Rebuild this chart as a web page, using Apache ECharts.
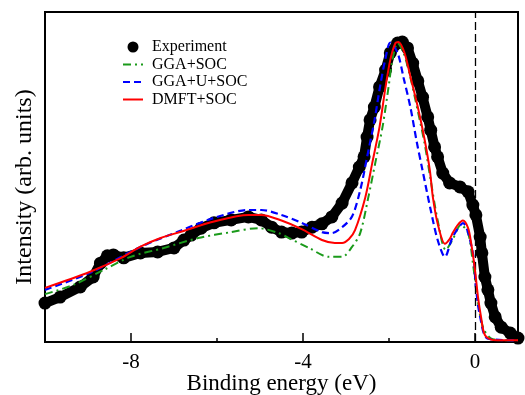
<!DOCTYPE html>
<html>
<head>
<meta charset="utf-8">
<script src="https://cdn.jsdelivr.net/npm/echarts@6/dist/echarts.min.js"></script>
<style>
html,body{margin:0;padding:0;background:#fff;}
#chart{width:525px;height:395px;}
</style>
</head>
<body>
<div id="chart"></div>
<script>
// ---- Data ----
const seriesNames = ['Experiment', 'GGA+SOC', 'GGA+U+SOC', 'DMFT+SOC'];
const xTickLabels = [-8, -4, 0];
const xMinorTicks = [-8, -6, -4, -2, 0];

const expE = [-10.0, -9.65, -9.18, -8.88, -8.71, -8.55, -8.41, -8.17, -7.78, -7.38, -7.0, -6.77, -6.6, -6.37, -6.07, -5.67, -5.27, -4.97, -4.73, -4.5, -4.26, -4.03, -3.79, -3.56, -3.33, -3.09, -2.86, -2.69, -2.58, -2.51, -2.44, -2.34, -2.22, -2.08, -1.97, -1.8, -1.69, -1.57, -1.45, -1.33, -1.22, -1.1, -1.03, -0.94, -0.87, -0.75, -0.59, -0.35, -0.16, -0.05, 0.02, 0.12, 0.16, 0.23, 0.3, 0.37, 0.47, 0.61, 0.82, 1.0];
const expI = [11.8, 13.6, 16.7, 19.7, 23.9, 26.1, 26.4, 25.5, 27.0, 27.3, 28.5, 30.9, 32.4, 34.5, 36.1, 37.0, 37.9, 37.0, 34.8, 33.3, 33.0, 33.3, 34.8, 35.8, 37.9, 42.1, 48.2, 53.0, 56.1, 62.1, 67.3, 71.2, 77.3, 82.4, 87.6, 90.6, 90.9, 89.1, 84.5, 79.1, 74.2, 68.2, 64.2, 59.1, 56.1, 51.2, 48.2, 47.0, 45.5, 41.5, 38.5, 31.8, 27.0, 19.7, 15.8, 11.8, 7.6, 4.5, 2.7, 1.2];

const ggaE = [-10.0, -9.34, -8.64, -8.01, -7.24, -6.44, -5.67, -5.04, -4.57, -4.33, -3.86, -3.4, -3.09, -2.86, -2.67, -2.48, -2.32, -2.15, -2.01, -1.92, -1.8, -1.66, -1.5, -1.33, -1.17, -1.03, -0.87, -0.68, -0.52, -0.33, -0.16, -0.05, 0.07, 0.2, 0.42, 1.0];
const ggaI = [14.5, 17.3, 21.8, 25.8, 28.5, 31.5, 33.3, 34.5, 33.0, 31.5, 28.5, 25.8, 25.8, 28.8, 33.0, 43.9, 54.2, 65.2, 77.3, 85.5, 90.6, 87.6, 80.0, 70.0, 60.0, 49.0, 37.0, 27.9, 31.0, 35.5, 33.0, 24.0, 12.0, 4.0, 0.8, 0.5];

const ggauE = [-10.0, -8.95, -7.78, -6.84, -6.07, -5.27, -4.97, -4.5, -4.03, -3.56, -3.33, -3.09, -2.86, -2.67, -2.51, -2.34, -2.2, -2.08, -1.97, -1.8, -1.66, -1.5, -1.36, -1.22, -1.03, -0.87, -0.7, -0.52, -0.28, -0.05, 0.02, 0.12, 0.3, 1.0];
const ggauI = [15.8, 21.0, 28.8, 33.8, 37.6, 40.0, 40.0, 38.5, 36.1, 33.3, 33.0, 34.8, 38.0, 46.0, 56.0, 67.0, 78.0, 86.0, 90.7, 87.6, 80.0, 71.0, 61.0, 52.0, 40.0, 31.0, 25.8, 31.8, 36.0, 27.0, 16.7, 7.6, 1.0, 0.5];

const dmftE = [-10.0, -8.95, -8.24, -7.78, -7.31, -6.84, -6.07, -5.27, -4.97, -4.5, -4.03, -3.56, -3.26, -3.09, -2.93, -2.79, -2.55, -2.39, -2.22, -2.08, -1.97, -1.85, -1.78, -1.64, -1.5, -1.33, -1.17, -1.05, -0.98, -0.87, -0.7, -0.59, -0.52, -0.4, -0.28, -0.16, -0.09, 0.0, 0.07, 0.14, 0.23, 0.42, 1.0];
const dmftI = [16.4, 21.3, 25.4, 28.9, 31.5, 33.4, 36.5, 38.5, 38.5, 36.8, 34.2, 30.9, 30.0, 30.0, 31.2, 33.9, 43.9, 54.2, 65.2, 77.3, 85.5, 90.6, 90.9, 87.6, 80.3, 71.2, 61.2, 52.0, 43.9, 36.0, 29.8, 31.2, 33.0, 35.5, 36.8, 34.5, 30.0, 21.8, 13.6, 7.6, 2.1, 0.6, 0.5];

const fermiLevel = [0];

function pairs(xs, ys) { return xs.map((x, i) => [x, ys[i]]); }

const FONT = 'Liberation Serif';
const chart = echarts.init(document.getElementById('chart'), null, {renderer: 'canvas'});
const hiddenSym = {color: 'rgba(0,0,0,0)', borderWidth: 0, opacity: 0};

const option = {
  backgroundColor: '#fff',
  animation: false,
  textStyle: {fontFamily: FONT, color: '#000'},
  grid: {left: 45, right: 7, top: 12, bottom: 53, show: true, borderColor: '#000', borderWidth: 2,
         containLabel: false, outerBoundsMode: 'none'},
  legend: {
    orient: 'vertical', left: 122, top: 39, padding: 0, itemGap: 1.5,
    itemWidth: 20, itemHeight: 11,
    textStyle: {fontFamily: FONT, fontSize: 16, color: '#000', lineHeight: 16, padding: [0, 0, 0, 4]},
    data: [
      {name: seriesNames[0], icon: 'circle', itemStyle: {color: '#000'}},
      {name: seriesNames[1], itemStyle: hiddenSym},
      {name: seriesNames[2], itemStyle: hiddenSym},
      {name: seriesNames[3], itemStyle: hiddenSym}
    ]
  },
  xAxis: [{
    type: 'value', min: -10, max: 1, interval: 2,
    name: 'Binding energy (eV)', nameLocation: 'middle', nameGap: 30, nameMoveOverlap: false,
    nameTextStyle: {fontFamily: FONT, fontSize: 23, color: '#000'},
    axisLine: {show: true, onZero: false, lineStyle: {color: '#000', width: 2}},
    axisTick: {show: true, inside: true, length: 4, customValues: xMinorTicks, lineStyle: {color: '#000', width: 1.5}},
    axisLabel: {
      margin: 10, fontFamily: FONT, fontSize: 21, color: '#000',
      customValues: xTickLabels
    },
    splitLine: {show: false}
  }, {
    type: 'value', min: -10, max: 1, interval: 2, position: 'bottom', gridIndex: 0,
    axisLine: {show: false, onZero: false},
    axisTick: {show: true, inside: true, length: 9, customValues: xTickLabels, lineStyle: {color: '#000', width: 1.5}},
    axisLabel: {show: false}, splitLine: {show: false}
  }],
  yAxis: [{
    type: 'value', min: 0, max: 100,
    name: 'Intensity (arb. units)', nameLocation: 'middle', nameGap: 8, nameMoveOverlap: false,
    nameTextStyle: {fontFamily: FONT, fontSize: 24, color: '#000', padding: [0, 20, 0, 0]},
    axisLine: {show: true, onZero: false, lineStyle: {color: '#000', width: 2}},
    axisTick: {show: false}, axisLabel: {show: false}, splitLine: {show: false}
  }],
  series: [
    {
      name: seriesNames[0], type: 'line', data: pairs(expE, expI),
      symbol: 'circle', symbolSize: 13, showSymbol: true,
      itemStyle: {color: '#000'},
      lineStyle: {color: '#000', width: 10}, z: 2
    },
    {
      name: seriesNames[1], type: 'line', data: pairs(ggaE, ggaI),
      symbol: 'none', smooth: 0.3,
      itemStyle: {color: '#1a9a1a'},
      lineStyle: {color: '#1a9a1a', width: 2, type: [8, 4, 2, 4]}, z: 3
    },
    {
      name: seriesNames[2], type: 'line', data: pairs(ggauE, ggauI),
      symbol: 'none', smooth: 0.3,
      itemStyle: {color: '#0000ff'},
      lineStyle: {color: '#0000ff', width: 2.2, type: [7, 4]}, z: 4
    },
    {
      name: seriesNames[3], type: 'line', data: pairs(dmftE, dmftI),
      symbol: 'none', smooth: 0.3,
      itemStyle: {color: '#ff0000'},
      lineStyle: {color: '#ff0000', width: 2}, z: 5
    },
    {
      name: 'fermi', type: 'line', data: [], symbol: 'none',
      markLine: {
        silent: true, symbol: ['none', 'none'], label: {show: false},
        emphasis: {disabled: true},
        lineStyle: {color: '#000', width: 1.3, type: [8, 4], opacity: 1},
        data: fermiLevel.map(v => ({xAxis: v}))
      }, z: 1
    }
  ]
};
chart.setOption(option);
</script>
</body>
</html>
